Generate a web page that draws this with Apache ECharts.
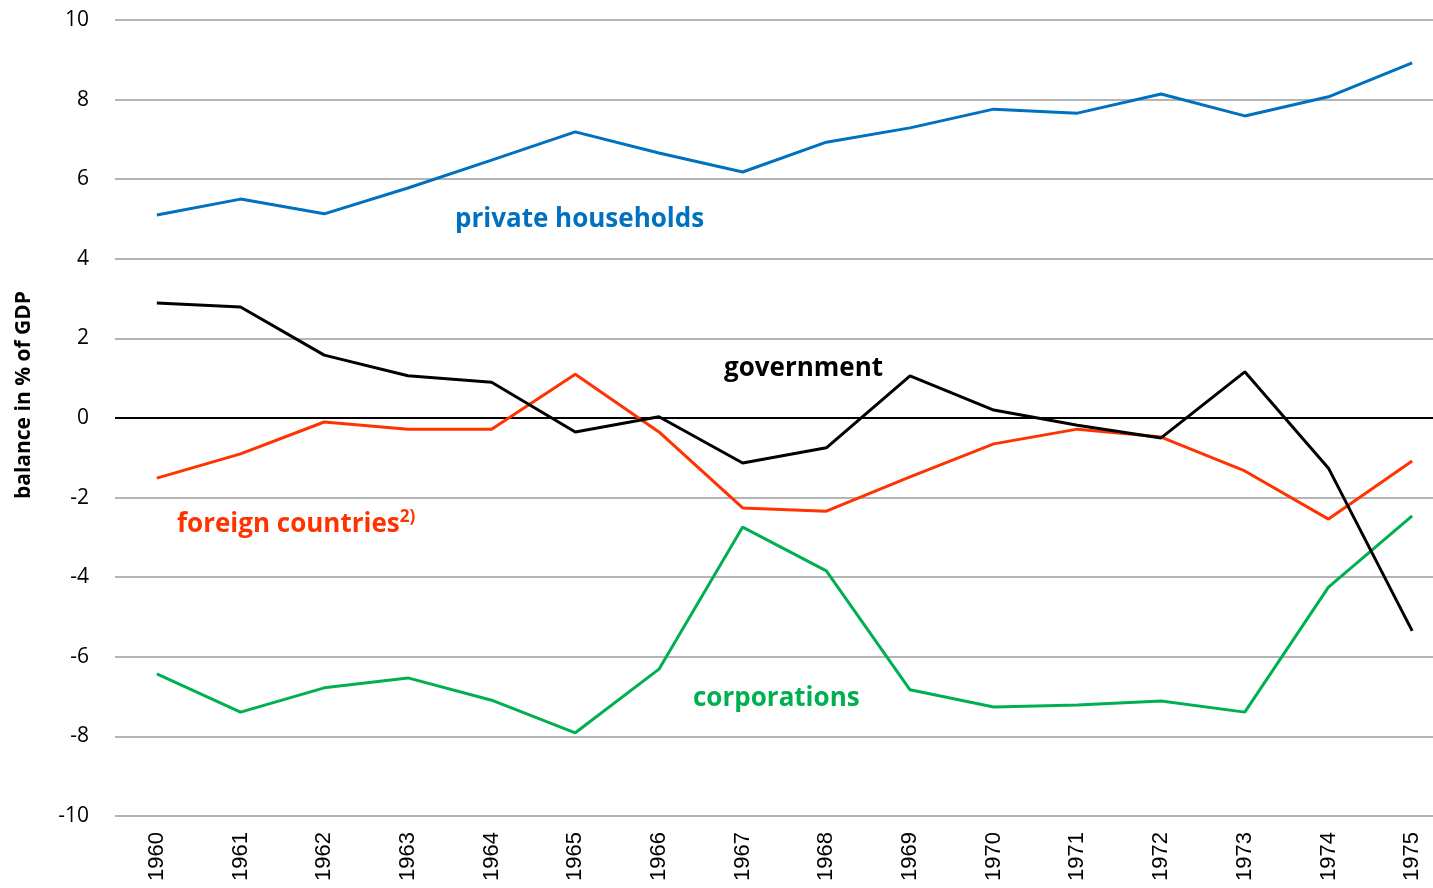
<!DOCTYPE html>
<html>
<head>
<meta charset="utf-8">
<script src="https://cdn.jsdelivr.net/npm/echarts@6/dist/echarts.min.js"></script>
<style>
  html, body { margin: 0; padding: 0; background: #fff; }
  #chart { width: 1433px; height: 888px; }
</style>
</head>
<body>
<div id="chart"></div>
<script>
const years = ["1960", "1961", "1962", "1963", "1964", "1965", "1966", "1967",
  "1968", "1969", "1970", "1971", "1972", "1973", "1974", "1975"];
const yTicks = [-10, -8, -6, -4, -2, 0, 2, 4, 6, 8, 10];

const households = [5.1, 5.5, 5.13, 5.78, 6.48, 7.19, 6.66, 6.18, 6.93, 7.29, 7.76, 7.66, 8.14, 7.59, 8.07, 8.92];
const government = [2.89, 2.79, 1.58, 1.06, 0.9, -0.35, 0.03, -1.13, -0.75, 1.06, 0.2, -0.18, -0.5, 1.16, -1.26, -5.35];
const foreign = [-1.51, -0.9, -0.1, -0.28, -0.28, 1.1, -0.35, -2.26, -2.34, -1.48, -0.65, -0.28, -0.48, -1.33, -2.54, -1.08];
const corporations = [-6.43, -7.39, -6.78, -6.53, -7.09, -7.91, -6.31, -2.74, -3.84, -6.83, -7.26, -7.21, -7.11, -7.39, -4.25, -2.46];

const chart = echarts.init(document.getElementById("chart"));

// 线条样式
function line(name, data, color, z) {
  return {
    name: name,
    type: "line",
    data: data,
    symbol: "none",
    z: z,
    lineStyle: { color: color, width: 3 },
  };
}

const labelFont = '"Open Sans", "Noto Sans", sans-serif';

const option = {
  animation: false,
  // 绘图区右侧超出画面
  grid: { top: 20, bottom: 72, left: 115, right: -21, outerBoundsMode: "none", containLabel: false },
  xAxis: {
    type: "category",
    data: years,
    boundaryGap: true,
    axisLine: { show: false },
    axisTick: { show: false },
    axisLabel: {
      rotate: 90,
      margin: 16,
      fontSize: 22,
      color: "#000",
      fontFamily: '"Liberation Sans", Arial, sans-serif',
    },
  },
  yAxis: {
    type: "value",
    min: yTicks[0],
    max: yTicks[yTicks.length - 1],
    interval: 2,
    axisLine: { show: false },
    axisTick: { show: false },
    axisLabel: {
      fontSize: 21,
      margin: 26,
      color: "#000",
      fontFamily: labelFont,
    },
    splitLine: { lineStyle: { color: "#b4b4b4", width: 2 } },
  },
  series: [
    line("private households", households, "#0070C0", 3),
    line("foreign countries", foreign, "#FF3300", 4),
    line("corporations", corporations, "#00B050", 3),
    Object.assign(line("government", government, "#000000", 5), {
      markLine: {
        silent: true,
        symbol: "none",
        label: { show: false },
        lineStyle: { color: "#000", width: 2, type: "solid" },
        data: [{ yAxis: 0 }],
        z: 2,
      },
    }),
  ],
  graphic: [
    {
      type: "text",
      x: 24,
      y: 395,
      rotation: Math.PI / 2,
      style: {
        text: "balance in % of GDP",
        fontSize: 21,
        fontWeight: "bold",
        fontFamily: labelFont,
        fill: "#000",
        align: "center",
        verticalAlign: "middle",
      },
    },
    {
      type: "text",
      x: 455, y: 220,
      style: { text: "private households", fontSize: 26, fontWeight: "bold", fontFamily: labelFont, fill: "#0070C0", verticalAlign: "middle" },
    },
    {
      type: "text",
      x: 724, y: 369,
      style: { text: "government", fontSize: 26, fontWeight: "bold", fontFamily: labelFont, fill: "#000", verticalAlign: "middle" },
    },
    {
      type: "text",
      x: 177, y: 525,
      style: {
        text: "foreign countries{sup|2)}",
        fontSize: 26, fontWeight: "bold", fontFamily: labelFont, fill: "#FF3300", verticalAlign: "middle",
        rich: { sup: { fontSize: 17, fontWeight: "bold", fontFamily: labelFont, fill: "#FF3300", verticalAlign: "top", padding: [0, 0, 16, 0] } },
      },
    },
    {
      type: "text",
      x: 693, y: 699,
      style: { text: "corporations", fontSize: 26, fontWeight: "bold", fontFamily: labelFont, fill: "#00B050", verticalAlign: "middle" },
    },
  ],
};

chart.setOption(option);
</script>
</body>
</html>
